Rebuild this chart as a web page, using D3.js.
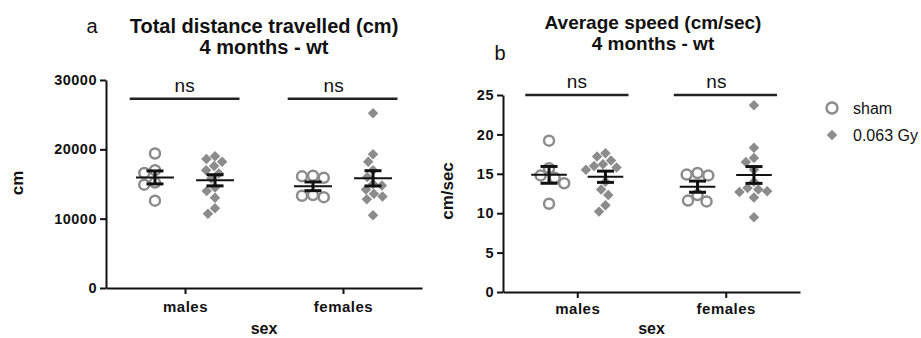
<!DOCTYPE html>
<html>
<head>
<meta charset="utf-8">
<script src="https://cdn.jsdelivr.net/npm/d3@7"></script>
<style>
  body { margin: 0; background: #fff; }
  svg { display: block; }
  text { font-family: "Liberation Sans", Arial, sans-serif; fill: #111; }
</style>
</head>
<body>
<svg id="chart" width="921" height="338"></svg>
<script>
// ---- data ----
const categories = ["males", "females"];
const groups = ["sham", "0.063 Gy"];
const significance = ["ns", "ns"];

// Total distance travelled (cm)
const distanceMalesSham = [19400, 17000, 16600, 15200, 14900, 12600];
const distanceMalesGy = [19000, 18600, 18200, 17600, 17000, 16500, 15800, 14500, 14000, 13000, 11500, 10700];
const distanceFemalesSham = [16100, 15900, 16200, 13300, 13100, 13400];
const distanceFemalesGy = [25200, 19300, 18200, 17000, 16000, 15000, 14800, 14200, 13600, 13200, 12800, 10500];
const distanceTicks = [0, 10000, 20000, 30000];

// Average speed (cm/sec)
const speedMalesSham = [19.2, 15.7, 14.8, 14.5, 13.8, 11.2];
const speedMalesGy = [17.6, 17.2, 16.7, 16.2, 16.0, 15.8, 15.5, 14.0, 13.0, 12.3, 11.0, 10.2];
const speedFemalesSham = [15.1, 14.8, 14.9, 11.5, 12.3, 11.6];
const speedFemalesGy = [23.7, 18.3, 17.0, 16.5, 15.5, 14.0, 13.2, 13.0, 12.8, 12.7, 12.0, 9.5];
const speedTicks = [0, 5, 10, 15, 20, 25];

// ---- styling ----
const GREY = "#8c8c8c";
const svg = d3.select("#chart");

// Horizontal swarm placement: each point takes the free slot closest to the centre line.
function dodge(ys, diam) {
  const placed = [];
  const out = new Array(ys.length);
  const order = d3.range(ys.length).sort((a, b) => ys[a] - ys[b]);
  for (const i of order) {
    const y = ys[i];
    const cands = [0];
    for (const p of placed) {
      const dy = Math.abs(p.y - y);
      if (dy < diam) {
        const dx = Math.sqrt(diam * diam - dy * dy);
        cands.push(p.x - dx, p.x + dx);
      }
    }
    cands.sort((a, b) => Math.abs(a) - Math.abs(b) || a - b);
    const x = cands.find(cx => placed.every(p => (p.x - cx) ** 2 + (p.y - y) ** 2 >= diam * diam - 1e-6));
    placed.push({ x, y });
    out[i] = x;
  }
  return out;
}

function styleTicks(sel, size) {
  sel.selectAll(".tick text").attr("fill", "#111").style("font-size", size + "px")
    .style("font-weight", "bold").style("letter-spacing", "0.5px")
    .style("font-family", '"Liberation Sans", Arial, sans-serif');
}

function drawPanel(cfg) {
  const g = svg.append("g");
  const x = d3.scalePoint().domain(categories).range(cfg.xRange).padding(0.5);
  const step = x.step();
  const xg = d3.scalePoint().domain(groups).range([-0.19 * step, 0.19 * step]);
  const y = d3.scaleLinear().domain(cfg.yDomain).range(cfg.yRange);

  // axes
  const yAxis = g.append("g")
    .attr("transform", `translate(${cfg.xRange[0]},0)`)
    .call(d3.axisLeft(y).tickValues(cfg.ticks).tickSize(6).tickSizeOuter(0).tickPadding(3).tickFormat(d3.format("d")));
  const xAxis = g.append("g")
    .attr("transform", `translate(0,${cfg.yRange[0]})`)
    .call(d3.axisBottom(x).tickSize(6).tickSizeOuter(0).tickPadding(cfg.xPad));
  [yAxis, xAxis].forEach(a => {
    a.select(".domain").attr("stroke", "#111").attr("stroke-width", 2);
    a.selectAll(".tick line").attr("stroke", "#111").attr("stroke-width", 2);
  });
  styleTicks(yAxis, 14.5);
  styleTicks(xAxis, 15);

  // axis titles
  g.append("text")
    .attr("transform", `translate(${cfg.yLabelX},${cfg.yLabelY}) rotate(-90)`)
    .attr("text-anchor", "middle")
    .style("font-size", "17px").style("font-weight", "bold")
    .text(cfg.yLabel);
  g.append("text")
    .attr("x", (cfg.xRange[0] + cfg.xRange[1]) / 2)
    .attr("y", 334)
    .attr("text-anchor", "middle")
    .style("font-size", "16px").style("font-weight", "bold")
    .text("sex");

  // chart titles
  cfg.title.forEach((t, i) => {
    g.append("text")
      .attr("x", cfg.titleX).attr("y", cfg.titleY + i * 20.5)
      .attr("text-anchor", "middle")
      .style("font-size", cfg.titleSize + "px").style("font-weight", "bold")
      .text(t);
  });
  g.append("text")
    .attr("x", cfg.letterX).attr("y", cfg.letterY)
    .attr("text-anchor", "middle")
    .style("font-size", "20px")
    .text(cfg.letter);

  // significance brackets
  const by = y(cfg.bracket);
  categories.forEach((c, ci) => {
    const x0 = x(c) + xg(groups[0]) - 0.16 * step;
    const x1 = x(c) + xg(groups[1]) + 0.155 * step;
    g.append("line")
      .attr("x1", x0).attr("x2", x1).attr("y1", by).attr("y2", by)
      .attr("stroke", "#222").attr("stroke-width", 2.5);
    g.append("text")
      .attr("x", (x0 + x1) / 2 - (ci === 1 ? 9 : 0)).attr("y", by - 7)
      .attr("text-anchor", "middle")
      .style("font-size", "19px")
      .text(significance[ci]);
  });

  // points, means and SEM bars
  const diamond = d3.symbol().type(d3.symbolSquare).size(55);
  categories.forEach(c => {
    groups.forEach((grp, gi) => {
      const vals = cfg.values[c][gi];
      const cx = x(c) + xg(grp);
      const ys = vals.map(v => y(v));
      const offs = dodge(ys, gi === 0 ? 11 : 9);
      if (gi === 0) {
        g.selectAll(null).data(vals).join("circle")
          .attr("cx", (d, i) => cx + offs[i]).attr("cy", d => y(d))
          .attr("r", 5).attr("fill", "none").attr("stroke", GREY).attr("stroke-width", 2.5);
      } else {
        g.selectAll(null).data(vals).join("path")
          .attr("d", diamond)
          .attr("transform", (d, i) => `translate(${cx + offs[i]},${y(d)}) rotate(45)`)
          .attr("fill", GREY);
      }
      const m = d3.mean(vals);
      const sem = d3.deviation(vals) / Math.sqrt(vals.length);
      const half = 0.12 * step, cap = 8.5;
      g.append("line").attr("x1", cx - half).attr("x2", cx + half)
        .attr("y1", y(m)).attr("y2", y(m)).attr("stroke", "#111").attr("stroke-width", 2);
      g.append("line").attr("x1", cx).attr("x2", cx)
        .attr("y1", y(m + sem)).attr("y2", y(m - sem)).attr("stroke", "#111").attr("stroke-width", 3);
      [m + sem, m - sem].forEach(v => {
        g.append("line").attr("x1", cx - cap).attr("x2", cx + cap)
          .attr("y1", y(v)).attr("y2", y(v)).attr("stroke", "#111").attr("stroke-width", 3);
      });
    });
  });
}

drawPanel({
  xRange: [106, 422], yRange: [288, 80], yDomain: [0, 30000], ticks: distanceTicks,
  values: { males: [distanceMalesSham, distanceMalesGy], females: [distanceFemalesSham, distanceFemalesGy] },
  bracket: 27300, xPad: 7,
  yLabel: "cm", yLabelX: 23, yLabelY: 183,
  title: ["Total distance travelled (cm)", "4 months - wt"], titleX: 264, titleY: 33, titleSize: 20,
  letter: "a", letterX: 92, letterY: 33
});

drawPanel({
  xRange: [503, 800], yRange: [292, 95], yDomain: [0, 25], ticks: speedTicks,
  values: { males: [speedMalesSham, speedMalesGy], females: [speedFemalesSham, speedFemalesGy] },
  bracket: 25, xPad: 5,
  yLabel: "cm/sec", yLabelX: 453, yLabelY: 191,
  title: ["Average speed (cm/sec)", "4 months - wt"], titleX: 653, titleY: 29, titleSize: 19,
  letter: "b", letterX: 500, letterY: 60
});

// legend
const legend = svg.append("g");
legend.append("circle").attr("cx", 832).attr("cy", 108).attr("r", 5.5)
  .attr("fill", "none").attr("stroke", GREY).attr("stroke-width", 2.5);
legend.append("path").attr("d", d3.symbol().type(d3.symbolSquare).size(55))
  .attr("transform", "translate(832,135) rotate(45)").attr("fill", GREY);
groups.forEach((grp, i) => {
  legend.append("text").attr("x", 853).attr("y", 114 + i * 27)
    .style("font-size", "16px").text(grp);
});
</script>
</body>
</html>
